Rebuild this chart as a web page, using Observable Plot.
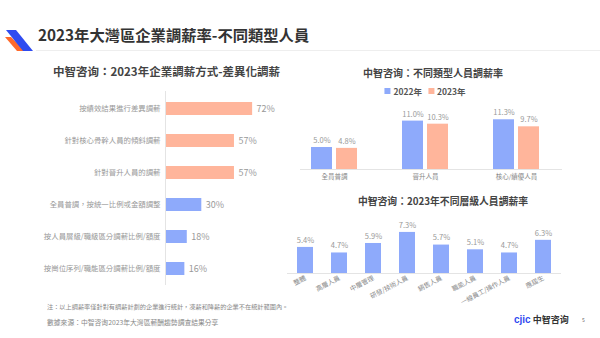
<!DOCTYPE html>
<html><head><meta charset="utf-8">
<script src="https://cdn.jsdelivr.net/npm/d3@7"></script>
<script src="https://cdn.jsdelivr.net/npm/@observablehq/plot@0.6"></script>
<style>
html,body{margin:0;padding:0;background:#fff;}
#page{position:relative;width:600px;height:338px;overflow:hidden;font-family:"Noto Sans CJK TC","Noto Sans CJK SC",sans-serif;color:#333;background:#fff;}
.abs{position:absolute;white-space:nowrap;line-height:1;}
#page svg{position:absolute;overflow:visible;}
</style></head><body><div id="page"></div>
<script>
const FONT = '"Noto Sans CJK TC","Noto Sans CJK SC",sans-serif';
const BLUE = "#8EAAFB";
const ORANGE = "#FFB59B";

const pageTitle = "2023年大灣區企業調薪率-不同類型人員";

// Left chart
const leftTitle = "中智咨询：2023年企業調薪方式-差異化調薪";
const leftCategories = [
  "按績效結果進行差異調薪",
  "針對核心骨幹人員的傾斜調薪",
  "針對晉升人員的調薪",
  "全員普調，按統一比例或金額調整",
  "按人員層級/職級區分調薪比例/額度",
  "按崗位序列/職能區分調薪比例/額度"
];
const leftValues = [72, 57, 57, 30, 18, 16];
const leftGroups = ["前三", "前三", "前三", "其他", "其他", "其他"];

// Top right chart
const typeTitle = "中智咨询：不同類型人員調薪率";
const typeCategories = ["全員普調", "晉升人員", "核心/績優人員"];
const years = ["2022年", "2023年"];
const values2022 = [5.0, 11.0, 11.3];
const values2023 = [4.8, 10.3, 9.7];

// Bottom right chart
const levelTitle = "中智咨询：2023年不同層級人員調薪率";
const levelCategories = ["整體", "高層人員", "中層管理", "研發/技術人員", "銷售人員", "職能人員", "一線員工/操作人員", "應屆生"];
const levelValues = [5.4, 4.7, 5.9, 7.3, 5.7, 5.1, 4.7, 6.3];
const levelAxisMin = 2.1;

const note1 = "注：以上調薪率僅針對有調薪計劃的企業進行統計，凍薪和降薪的企業不在統計範圍內。";
const note2 = "數據來源：中智咨询2023年大灣區薪酬趨勢調查結果分享";

const page = document.getElementById("page");
function addText(txt, left, top, style) {
  const d = document.createElement("div");
  d.className = "abs";
  d.textContent = txt;
  d.style.left = left + "px";
  d.style.top = top + "px";
  Object.assign(d.style, style || {});
  page.appendChild(d);
  return d;
}
function place(svg, left, top) {
  svg.style.left = left + "px";
  svg.style.top = top + "px";
  page.appendChild(svg);
}

// header logo
const logo = document.createElementNS("http://www.w3.org/2000/svg", "svg");
logo.setAttribute("width", 40); logo.setAttribute("height", 30);
logo.innerHTML = '<polygon points="2,10 8,10 22,24 14,24" fill="#FF6A2B"/>' +
  '<polygon points="3,3 13,3 30,24 20,24" fill="#2F4BF0"/>';
logo.style.left = "3px"; logo.style.top = "27px";
page.appendChild(logo);

addText(pageTitle, 38, 27, {fontSize: "15.3px", fontWeight: "700", color: "#333"});
const hr = document.createElement("div");
hr.style.cssText = "position:absolute;left:36px;top:50px;width:564px;height:1px;background:#eeeeee;";
page.appendChild(hr);

// Left chart
addText(leftTitle, 53, 66, {fontSize: "11.5px", fontWeight: "700", color: "#444"});
const leftData = leftCategories.map((c, i) => ({c, v: leftValues[i], g: leftGroups[i]}));
const leftPlot = Plot.plot({
  width: 260, height: 202,
  marginLeft: 125, marginRight: 14, marginTop: 6, marginBottom: 2,
  style: {fontFamily: FONT, fontSize: "7.4px", color: "#999", background: "transparent"},
  x: {domain: [0, 100], axis: null},
  y: {domain: leftCategories, paddingInner: 0.6, paddingOuter: 0.3, label: null, tickSize: 0, tickPadding: 5},
  color: {domain: ["前三", "其他"], range: [ORANGE, BLUE]},
  marks: [
    Plot.barX(leftData, {x: "v", y: "c", fill: "g"}),
    Plot.ruleX([0], {stroke: "#e4e4e4"}),
    Plot.text(leftData, {x: "v", y: "c", text: d => d.v + "%", textAnchor: "start", dx: 4, fontSize: 9, fill: "#999"})
  ]
});
place(leftPlot, 40, 85);

// Top right chart
addText(typeTitle, 433, 68, {fontSize: "10px", fontWeight: "700", color: "#444", transform: "translateX(-50%)"});
const legend = document.createElement("div");
legend.className = "abs";
legend.style.cssText += "left:425px;top:86.5px;transform:translateX(-50%);display:flex;align-items:center;font-size:8.5px;font-weight:700;color:#555;";
[[years[0], BLUE], [years[1], ORANGE]].forEach(([y, col], i) => {
  const sw = document.createElement("span");
  sw.style.cssText = `display:inline-block;width:6px;height:6px;background:${col};margin-right:3px;margin-left:${i ? 6 : 0}px;`;
  const t = document.createElement("span");
  t.textContent = y;
  legend.appendChild(sw); legend.appendChild(t);
});
page.appendChild(legend);

const typeData = [];
typeCategories.forEach((c, i) => {
  typeData.push({c, year: years[0], v: values2022[i]});
  typeData.push({c, year: years[1], v: values2023[i]});
});
const d22 = typeData.filter(d => d.year === years[0]);
const d23 = typeData.filter(d => d.year === years[1]);
const typePlot = Plot.plot({
  width: 280, height: 88,
  marginLeft: 10, marginRight: 8, marginTop: 3.6, marginBottom: 14,
  style: {fontFamily: FONT, fontSize: "6.5px", color: "#888", background: "transparent"},
  x: {domain: typeCategories, paddingInner: 0.5, paddingOuter: 0.174, align: 0.31, label: null, tickSize: 0, tickPadding: 5},
  y: {domain: [0, 16], axis: null},
  color: {domain: years, range: [BLUE, ORANGE]},
  marks: [
    Plot.barY(d22, {x: "c", y: "v", fill: "year", insetRight: 25}),
    Plot.barY(d23, {x: "c", y: "v", fill: "year", insetLeft: 25}),
    Plot.ruleY([0], {stroke: "#e4e4e4"}),
    Plot.text(d22, {x: "c", y: "v", text: d => d.v.toFixed(1) + "%", dx: -12.5, dy: -7, fontSize: 7.5, fill: "#999"}),
    Plot.text(d23, {x: "c", y: "v", text: d => d.v.toFixed(1) + "%", dx: 12.5, dy: -7, fontSize: 7.5, fill: "#999"})
  ]
});
place(typePlot, 290, 95);

// Bottom right chart
addText(levelTitle, 443, 197, {fontSize: "9.8px", fontWeight: "700", color: "#444", transform: "translateX(-50%)"});
const levelData = levelCategories.map((c, i) => ({c, v: levelValues[i]}));
const levelPlot = Plot.plot({
  width: 290, height: 100,
  marginLeft: 7, marginRight: 9, marginTop: 3.5, marginBottom: 42,
  style: {fontFamily: FONT, fontSize: "6.5px", color: "#888", background: "transparent"},
  x: {domain: levelCategories, paddingInner: 0.52, paddingOuter: 0.28, label: null, tickSize: 0, tickPadding: 4, tickRotate: -28},
  y: {domain: [levelAxisMin, 9], clamp: true, axis: null},
  marks: [
    Plot.barY(levelData, {x: "c", y: "v", fill: BLUE}),
    Plot.ruleY([levelAxisMin], {stroke: "#e4e4e4"}),
    Plot.text(levelData, {x: "c", y: "v", text: d => d.v.toFixed(1) + "%", dy: -7, fontSize: 7.5, fill: "#999"})
  ]
});
place(levelPlot, 280, 215);

// footnotes
addText(note1, 47, 304, {fontSize: "6.2px", color: "#888"});
addText(note2, 47, 319, {fontSize: "6.8px", color: "#888"});

// bottom-right brand
const brand = addText("", 514, 315, {fontSize: "9px", fontWeight: "700"});
brand.innerHTML = '<span style="color:#2F4BF0;font-family:Arial,Liberation Sans,sans-serif;font-size:10px;">cjic</span><span style="color:#333;margin-left:2px;">中智咨询</span>';
addText("5", 582, 317, {fontSize: "5px", color: "#666"});
</script>
</body></html>
